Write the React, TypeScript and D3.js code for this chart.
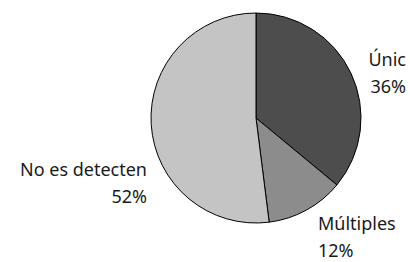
import React, { useEffect, useRef } from "react";
import * as d3 from "d3";

const labels = ["Únic", "Múltiples", "No es detecten"];
const values = [36, 12, 52];
const colors = ["#4d4d4d", "#8c8c8c", "#c4c4c4"];

// label placement: [x, y of first line, anchor]
const labelPos: [number, number, string][] = [
  [406, 66, "end"],
  [318, 230, "start"],
  [147, 176, "end"],
];

export default function App() {
  const ref = useRef<SVGSVGElement>(null);

  useEffect(() => {
    const svg = d3.select(ref.current);
    svg.selectAll("*").remove();

    const cx = 256, cy = 118, r = 105;
    const data = labels.map((l, i) => ({ label: l, value: values[i], color: colors[i] }));

    const pie = d3.pie<any>().value((d) => d.value).sort(null);
    const arc = d3.arc<any>().innerRadius(0).outerRadius(r);

    const g = svg.append("g").attr("transform", `translate(${cx}, ${cy})`);
    g.selectAll("path")
      .data(pie(data))
      .join("path")
      .attr("d", arc)
      .attr("fill", (d) => d.data.color)
      .attr("stroke", "#000")
      .attr("stroke-width", 1);

    const txt = svg
      .selectAll("text")
      .data(data)
      .join("text")
      .attr("font-family", "'Noto Sans', sans-serif")
      .attr("font-size", 18)
      .attr("fill", "#1a1a1a")
      .attr("text-anchor", (d, i) => labelPos[i][2]);

    txt
      .append("tspan")
      .attr("x", (d, i) => labelPos[i][0])
      .attr("y", (d, i) => labelPos[i][1])
      .text((d) => d.label);
    txt
      .append("tspan")
      .attr("x", (d, i) => labelPos[i][0])
      .attr("y", (d, i) => labelPos[i][1] + 27)
      .text((d) => d.value + "%");
  }, []);

  return (
    <svg
      ref={ref}
      width={410}
      height={262}
      style={{ position: "absolute", left: 0, top: 0, background: "#fff" }}
    />
  );
}
